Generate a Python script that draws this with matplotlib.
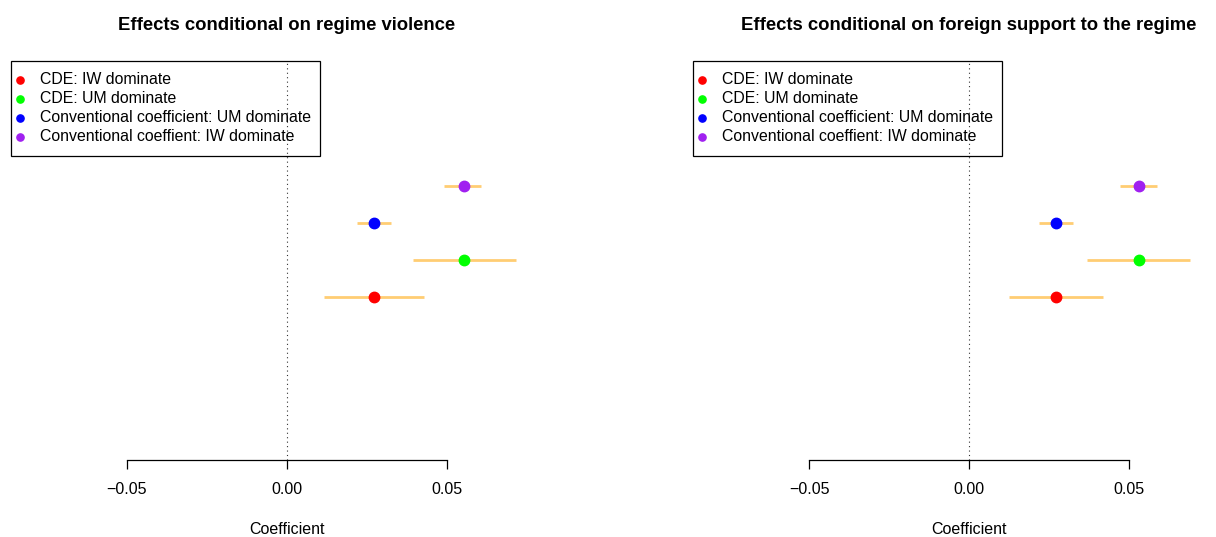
import numpy as np
import matplotlib.pyplot as plt
from matplotlib.patches import Rectangle

plt.rcParams['font.family'] = ['Liberation Sans', 'DejaVu Sans']

# series labels (bottom to top) and colours
labels = ["CDE: IW dominate", "CDE: UM dominate",
          "Conventional coefficient: UM dominate", "Conventional coeffient: IW dominate"]
colors = ["#FF0000", "#00FF00", "#0000FF", "#A020F0"]

titles = ["Effects conditional on regime violence",
          "Effects conditional on foreign support to the regime"]

# panel 1: regime violence
est_violence = [0.0272, 0.0553, 0.0272, 0.0553]
lo_violence = [0.0115, 0.0394, 0.0219, 0.0490]
hi_violence = [0.0429, 0.0715, 0.0326, 0.0605]

# panel 2: foreign support
est_support = [0.0272, 0.0530, 0.0272, 0.0530]
lo_support = [0.0124, 0.0369, 0.0219, 0.0472]
hi_support = [0.0419, 0.0691, 0.0324, 0.0586]

xticks = [-0.05, 0.00, 0.05]
xticklabels = ["\u22120.05", "0.00", "0.05"]

W, H = 1216, 537          # figure size in pixels
AX_W, AX_H = 552, 399     # plot region size in pixels


def draw_legend(ax):
    """ R style legend box in the top left corner of the plot region """
    # pixel offsets from the top left corner of the plot region -> axes coords
    px = lambda dx: dx / AX_W
    py = lambda dy: 1 - dy / AX_H
    ax.add_patch(Rectangle((0, py(95)), px(309), 95 / AX_H, transform=ax.transAxes,
                           fill=False, ec='black', lw=0.9, clip_on=False))
    for i, (lab, c) in enumerate(zip(labels, colors)):
        y = py(19 + 19 * i)
        ax.plot(px(9), y, 'o', color=c, ms=5.2, transform=ax.transAxes, clip_on=False)
        ax.text(px(29), y, lab, fontsize=11.4, va='center', ha='left',
                transform=ax.transAxes)


def draw_panel(ax, est, lo, hi, title):
    """ Draw one coefficient panel in R base-graphics style """
    ypos = np.arange(1, len(est) + 1)
    ax.axvline(0, color='#333333', lw=0.8, ls=(0, (1, 3)))
    ax.hlines(ypos, lo, hi, color='#FFA500', alpha=0.55, lw=2)
    for y, e, c in zip(ypos, est, colors):
        ax.plot(e, y, 'o', color=c, ms=7.5, zorder=3)
    ax.set_xlim(-0.08625, 0.08625)
    ax.set_ylim(-3.405, 7.378)
    for s in ['top', 'right', 'left']:
        ax.spines[s].set_visible(False)
    ax.spines['bottom'].set_bounds(-0.05, 0.05)
    ax.spines['bottom'].set_linewidth(0.9)
    ax.set_yticks([])
    ax.set_xticks(xticks)
    ax.set_xticklabels(xticklabels, fontsize=11.5)
    ax.tick_params(axis='x', length=6.5, width=0.9, pad=9)
    ax.set_xlabel("Coefficient", fontsize=11.5, labelpad=18)
    ax.set_title(title, fontsize=13.3, fontweight='bold', pad=22)
    draw_legend(ax)


fig = plt.figure(figsize=(W / 100, H / 100), dpi=100)
ax1 = fig.add_axes([11 / W, 1 - 460 / H, AX_W / W, AX_H / H])
ax2 = fig.add_axes([693 / W, 1 - 460 / H, AX_W / W, AX_H / H])
draw_panel(ax1, est_violence, lo_violence, hi_violence, titles[0])
draw_panel(ax2, est_support, lo_support, hi_support, titles[1])
fig.savefig('out.png', dpi=100)
